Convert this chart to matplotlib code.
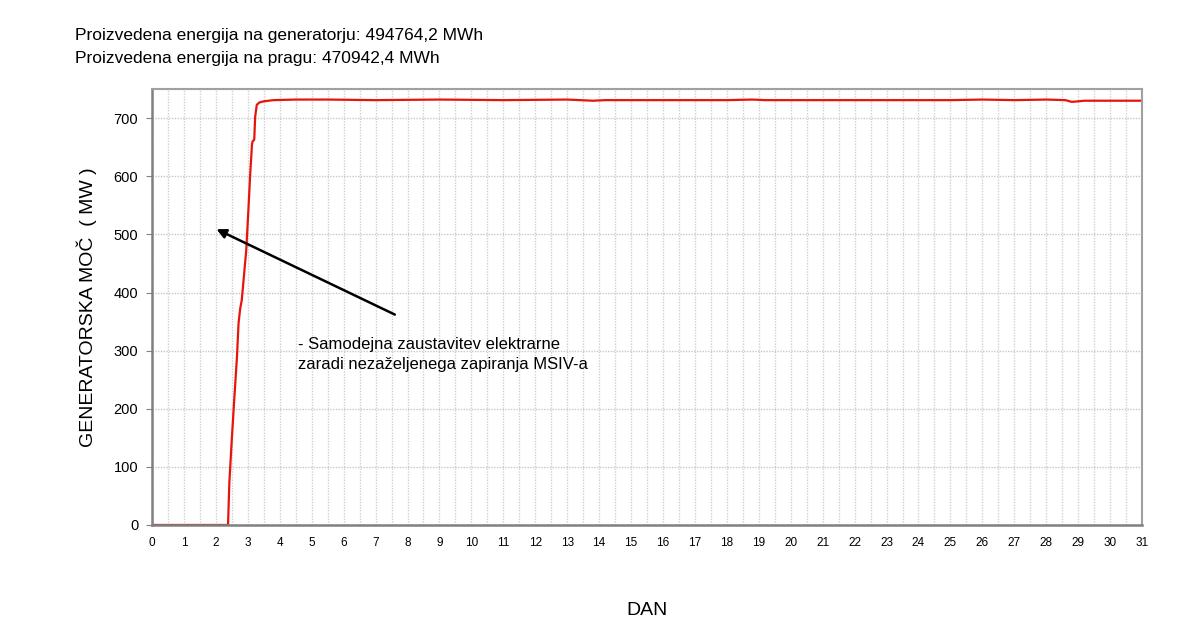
import numpy as np
import matplotlib.pyplot as plt

plt.rcParams['font.family'] = ['Liberation Sans', 'DejaVu Sans']

# generator power (MW) over days of the month
dan = [0, 2.38, 2.42, 2.5, 2.58, 2.66, 2.71, 2.76, 2.81, 2.88, 2.95, 3.02, 3.07,
       3.13, 3.15, 3.2, 3.23, 3.28, 3.36, 3.5, 3.8, 4.5, 5.5, 7.0, 9.0, 11.0,
       13.0, 13.8, 14.2, 16.0, 18.0, 18.8, 19.2, 21.0, 23.0, 25.0, 26.0, 27.0,
       28.0, 28.6, 28.8, 29.0, 29.2, 30.0, 31.0]
moc = [0, 0, 72, 150, 221, 290, 348, 372, 387, 430, 473, 545, 600,
       655, 660, 663, 703, 723, 727, 729, 731, 732, 732, 731, 732, 731,
       732, 730, 731, 731, 731, 732, 731, 731, 731, 731, 732, 731,
       732, 731, 728, 729, 730, 730, 730]

naslov = ["Proizvedena energija na generatorju: 494764,2 MWh",
          "Proizvedena energija na pragu: 470942,4 MWh"]
opomba = "- Samodejna zaustavitev elektrarne\nzaradi nezaželjenega zapiranja MSIV-a"

fig = plt.figure(figsize=(12, 6.41), dpi=100)
ax = fig.add_axes([0.1267, 0.181, 0.825, 0.68])

ax.plot(dan, moc, color='#e8140c', lw=1.6)

ax.set_xlim(0, 31)
ax.set_ylim(0, 750)
ax.set_xticks(np.arange(0, 32, 1))
ax.set_xticks(np.arange(0.5, 31, 1), minor=True)
ax.set_yticks(np.arange(0, 800, 100))
ax.grid(True, which='both', axis='x', color='#d0d0d0', ls=(0, (1, 1)), lw=1)
ax.grid(True, which='major', axis='y', color='#c8c8c8', ls=(0, (1, 1)), lw=1)
ax.tick_params(axis='x', which='both', length=0, labelsize=8.5, pad=9)
ax.tick_params(axis='y', length=4, color='#808080', labelsize=10.5, pad=6)

for s in ['left', 'bottom']:
    ax.spines[s].set_color('#808080')
    ax.spines[s].set_linewidth(1.8)
for s in ['top', 'right']:
    ax.spines[s].set_color('#a0a0a0')
    ax.spines[s].set_linewidth(1.5)

ax.set_ylabel("GENERATORSKA MOČ  ( MW )", fontsize=14, labelpad=12)
ax.set_xlabel("DAN", fontsize=14, labelpad=38)

ax.annotate("", xy=(1.94, 511), xytext=(7.68, 360),
            arrowprops=dict(arrowstyle='-|>', color='black', lw=1.8,
                            mutation_scale=14))
ax.text(4.58, 324, opomba, fontsize=12, va='top', ha='left', linespacing=1.45)

fig.text(0.0625, 0.945, naslov[0], fontsize=12.5, va='center')
fig.text(0.0625, 0.909, naslov[1], fontsize=12.5, va='center')

fig.savefig("out.png", dpi=100)
